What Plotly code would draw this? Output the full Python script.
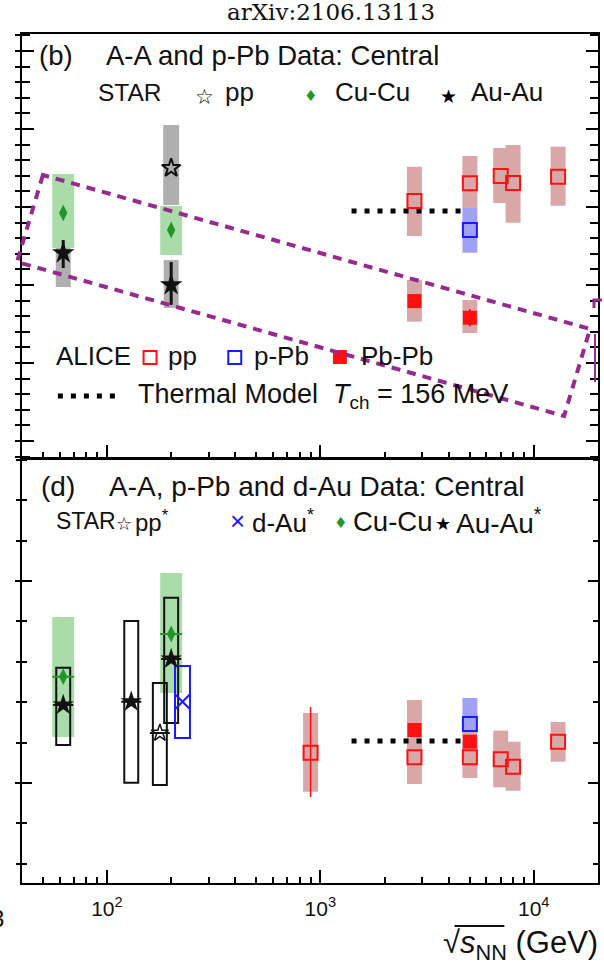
import math
import plotly.graph_objects as go

# ---------------- data : panel (b) ----------------
b_star_cucu_x = [62.4, 200]
b_star_cucu_y = [0.2962, 0.2853]
b_star_cucu_hi = [0.3212, 0.3006]
b_star_cucu_lo = [0.2737, 0.2692]

b_star_auau_x = [62.4, 200]
b_star_auau_y = [0.2705, 0.2500]
b_star_auau_hi = [0.2904, 0.2660]
b_star_auau_lo = [0.2487, 0.2353]
b_star_auau_stat_up = [0.0083, 0.0147]
b_star_auau_stat_dn = [0.0096, 0.0128]

b_star_pp_x = [200]
b_star_pp_y = [0.3250]
b_star_pp_hi = [0.3526]
b_star_pp_lo = [0.3013]

b_alice_pp_x = [2760, 5020, 7000, 8000, 13000]
b_alice_pp_y = [0.3038, 0.3152, 0.3199, 0.3154, 0.3194]
b_alice_pp_hi = [0.3258, 0.3327, 0.3378, 0.3397, 0.3387]
b_alice_pp_lo = [0.2814, 0.2994, 0.3026, 0.2899, 0.3008]

b_alice_ppb_x = [5020]
b_alice_ppb_y = [0.2853]
b_alice_ppb_hi = [0.2994]
b_alice_ppb_lo = [0.2707]

b_alice_pbpb_x = [2760, 5020]
b_alice_pbpb_y = [0.2397, 0.2290]
b_alice_pbpb_hi = [0.2532, 0.2404]
b_alice_pbpb_lo = [0.2265, 0.2192]
b_alice_pbpb_stat = [0.0030, 0.0055]

thermal_x = [1400, 4600]
thermal_b = [0.2974, 0.2974]

# ---------------- data : panel (d) ----------------
d_star_cucu_x = [62.4, 200]
d_star_cucu_y = [0.12631, 0.13688]
d_star_cucu_hi = [0.14109, 0.15198]
d_star_cucu_lo = [0.11139, 0.12228]

d_star_auau_x = [62.4, 130, 200]
d_star_auau_y = [0.11931, 0.12012, 0.13069]
d_star_auau_hi = [0.12854, 0.14010, 0.14587]
d_star_auau_lo = [0.10941, 0.10007, 0.11485]

d_star_pp_x = [177]
d_star_pp_y = [0.11238]
d_star_pp_hi = [0.12475]
d_star_pp_lo = [0.09950]

d_star_dau_x = [226]
d_star_dau_y = [0.12012]
d_star_dau_hi = [0.12896]
d_star_dau_lo = [0.11114]

d_alice_pp_x = [900, 2760, 5020, 7000, 8000, 13000]
d_alice_pp_y = [0.10750, 0.10636, 0.10636, 0.10587, 0.10403, 0.11022]
d_alice_pp_hi = [0.11733, 0.11312, 0.11064, 0.11295, 0.11022, 0.11510]
d_alice_pp_lo = [0.09785, 0.09975, 0.10124, 0.09894, 0.09809, 0.10527]
d_alice_pp_stat_up = [0.01131, 0, 0, 0, 0, 0]
d_alice_pp_stat_dn = [0.01097, 0, 0, 0, 0, 0]

d_alice_pbpb_x = [2760, 5020]
d_alice_pbpb_y = [0.11312, 0.11022]
d_alice_pbpb_hi = [0.12054, 0.11361]
d_alice_pbpb_lo = [0.10569, 0.10668]

d_alice_ppb_x = [5020]
d_alice_ppb_y = [0.11460]
d_alice_ppb_hi = [0.12104]
d_alice_ppb_lo = [0.11270]

thermal_d = [0.1104, 0.1104]

x_major = [100, 1000, 10000]
x_major_text = ["10<sup>2</sup>", "10<sup>3</sup>", "10<sup>4</sup>"]
x_minor = [m * 10 ** e for e in (1, 2, 3) for m in range(2, 10) if 40 <= m * 10 ** e] + [20000]

# ---------------- styles ----------------
W, H = 604, 966
L, R, T, B = 22, 4, 34, 83
PW, PH = W - L - R, H - T - B
FONT = "Liberation Sans, Arial, sans-serif"
SYM = "DejaVu Sans, sans-serif"
INK = "#111111"
C_GRAY = "#afafaf"
C_GREEN = "#a9dca9"
C_ROSE = "#d9a7a7"
C_BLUE = "#a0a0f6"
RED = "#ff1010"
BLUE = "#1a1aff"
GREEN = "#22962a"
PURPLE = "#962a8f"

XR = [math.log10(40), math.log10(20000)]
DEC = PW / (XR[1] - XR[0])   # pixels per decade on the x axis


def px(xp):
    return (xp - L) / PW


def py(yp):
    return (H - B - yp) / PH


fig = go.Figure()
shapes = []


def boxes(xs, lo, hi, yref, color, w, outline=None, lw=0):
    f = 10 ** (w / 2 / DEC)
    for x, a, b in zip(xs, lo, hi):
        shapes.append(dict(type="rect", xref="x" if yref == "y" else "x2", yref=yref,
                           x0=x / f, x1=x * f, y0=a, y1=b, layer="below",
                           fillcolor=color if outline is None else "rgba(0,0,0,0)",
                           line=dict(width=lw, color=outline if outline else color)))


# panel (b) boxes
boxes(b_star_pp_x, b_star_pp_lo, b_star_pp_hi, "y", C_GRAY, 16)
boxes(b_star_auau_x, b_star_auau_lo, b_star_auau_hi, "y", C_GRAY, 15)
boxes(b_star_cucu_x, b_star_cucu_lo, b_star_cucu_hi, "y", C_GREEN, 22)
boxes(b_alice_pp_x, b_alice_pp_lo, b_alice_pp_hi, "y", C_ROSE, 15)
boxes(b_alice_pbpb_x, b_alice_pbpb_lo, b_alice_pbpb_hi, "y", C_ROSE, 15)
boxes(b_alice_ppb_x, b_alice_ppb_lo, b_alice_ppb_hi, "y", C_BLUE, 15)

# panel (d) boxes
boxes(d_star_cucu_x, d_star_cucu_lo, d_star_cucu_hi, "y2", C_GREEN, 22)
boxes(d_alice_pp_x, d_alice_pp_lo, d_alice_pp_hi, "y2", C_ROSE, 15)
boxes(d_alice_pbpb_x, d_alice_pbpb_lo, d_alice_pbpb_hi, "y2", C_ROSE, 15)
boxes(d_alice_ppb_x, d_alice_ppb_lo, d_alice_ppb_hi, "y2", C_BLUE, 15)
boxes(d_star_auau_x, d_star_auau_lo, d_star_auau_hi, "y2", None, 14, outline=INK, lw=2)
boxes(d_star_pp_x, d_star_pp_lo, d_star_pp_hi, "y2", None, 14, outline=INK, lw=2)
boxes(d_star_dau_x, d_star_dau_lo, d_star_dau_hi, "y2", None, 15, outline=BLUE, lw=2)

# thermal model lines
for xa, ya, yv in (("x", "y", thermal_b), ("x2", "y2", thermal_d)):
    fig.add_trace(go.Scatter(x=thermal_x, y=yv, xaxis=xa, yaxis=ya, mode="lines",
                             line=dict(color="black", width=5, dash="5px,8px"),
                             showlegend=False, hoverinfo="skip"))


def pts(x, y, xa, ya, symbol, size, color, lc=None, lw=0, err=None):
    kw = {}
    if err is not None:
        kw["error_y"] = err
    fig.add_trace(go.Scatter(x=x, y=y, xaxis=xa, yaxis=ya, mode="markers",
                             marker=dict(symbol=symbol, size=size, color=color,
                                         line=dict(color=lc or color, width=lw)),
                             showlegend=False, **kw))


# panel (b) markers
pts(b_star_pp_x, b_star_pp_y, "x", "y", "star-open", 14, INK, lw=2)
pts(b_star_cucu_x, b_star_cucu_y, "x", "y", "diamond-tall", 12, GREEN)
pts(b_star_auau_x, b_star_auau_y, "x", "y", "star", 17, INK,
    err=dict(type="data", symmetric=False, array=b_star_auau_stat_up,
             arrayminus=b_star_auau_stat_dn, color=INK, thickness=3, width=0))
pts(b_alice_pp_x, b_alice_pp_y, "x", "y", "square-open", 14, RED, lw=2)
pts(b_alice_ppb_x, b_alice_ppb_y, "x", "y", "square-open", 14, BLUE, lw=2)
pts(b_alice_pbpb_x, b_alice_pbpb_y, "x", "y", "square", 14, RED,
    err=dict(type="data", array=b_alice_pbpb_stat, color=RED, thickness=2, width=0))

# panel (d) markers
capz = dict(type="data", array=[0.00005] * 3, color=INK, thickness=1.5, width=10)
pts(d_star_cucu_x, d_star_cucu_y, "x2", "y2", "diamond-tall", 12, GREEN,
    err=dict(type="data", array=[0.00005] * 2, color=GREEN, thickness=1.5, width=11))
pts(d_star_auau_x, d_star_auau_y, "x2", "y2", "star", 16, INK, err=capz)
pts(d_star_pp_x, d_star_pp_y, "x2", "y2", "star-open", 13, INK, lw=1.5,
    err=dict(type="data", array=[0.00005], color=INK, thickness=1.5, width=10))
pts(d_star_dau_x, d_star_dau_y, "x2", "y2", "x-thin-open", 14, BLUE, lw=2)
pts(d_alice_pp_x, d_alice_pp_y, "x2", "y2", "square-open", 14, RED, lw=2,
    err=dict(type="data", symmetric=False, array=d_alice_pp_stat_up,
             arrayminus=d_alice_pp_stat_dn, color=RED, thickness=1.5, width=0))
pts(d_alice_pbpb_x, d_alice_pbpb_y, "x2", "y2", "square", 14, RED)
pts(d_alice_ppb_x, d_alice_ppb_y, "x2", "y2", "square-open", 14, BLUE, lw=2)

# invisible traces for the outer-tick overlay axes
fig.add_trace(go.Scatter(x=[None], y=[None], xaxis="x", yaxis="y3", showlegend=False))
fig.add_trace(go.Scatter(x=[None], y=[None], xaxis="x2", yaxis="y4", showlegend=False))

# ---------------- axes ----------------
YB = [0.13910, 0.41090]
YD = [0.075248, 0.180322]
TOPDOM = [0.5006, 1.0]
BOTDOM = [0.0, 0.5]

xcommon = dict(type="log", range=XR, showline=True, linecolor="black", linewidth=2,
               mirror=True, ticks="inside", ticklen=13, tickwidth=2, tickcolor="black",
               tickmode="array", tickvals=x_major, ticktext=x_major_text,
               showgrid=False, zeroline=False,
               minor=dict(ticks="inside", ticklen=6, tickwidth=2, tickcolor="black",
                          tickmode="array", tickvals=x_minor, showgrid=False))
fig.update_layout(
    xaxis=dict(**xcommon, anchor="y", showticklabels=False),
    xaxis2=dict(**xcommon, anchor="y2", matches="x", showticklabels=True,
                tickfont=dict(family=FONT, size=21, color=INK), ticklabelstandoff=6),
    yaxis=dict(domain=TOPDOM, range=YB, anchor="x", showline=True, linecolor="black",
               linewidth=2, mirror="ticks", ticks="inside", ticklen=12, tickwidth=2,
               tickcolor="black", tick0=0, dtick=0.05, showticklabels=False,
               showgrid=False, zeroline=False,
               minor=dict(ticks="inside", ticklen=8, tickwidth=2, tickcolor="black",
                          tick0=0, dtick=0.01)),
    yaxis3=dict(overlaying="y", range=YB, anchor="x", side="left", showline=False,
                ticks="outside", ticklen=6, tickwidth=2, tickcolor="black", tick0=0,
                dtick=0.05, showticklabels=False, showgrid=False, zeroline=False,
                minor=dict(ticks="outside", ticklen=6, tickwidth=2, tickcolor="black",
                           tick0=0, dtick=0.01)),
    yaxis2=dict(domain=BOTDOM, range=YD, anchor="x2", showline=True, linecolor="black",
                linewidth=2, mirror="ticks", ticks="inside", ticklen=10, tickwidth=2,
                tickcolor="black", tick0=0, dtick=0.05, showticklabels=False,
                showgrid=False, zeroline=False,
                minor=dict(ticks="inside", ticklen=5, tickwidth=2, tickcolor="black",
                           tick0=0, dtick=0.01)),
    yaxis4=dict(overlaying="y2", range=YD, anchor="x2", side="left", showline=False,
                ticks="outside", ticklen=6, tickwidth=2, tickcolor="black", tick0=0,
                dtick=0.05, showticklabels=False, showgrid=False, zeroline=False,
                minor=dict(ticks="outside", ticklen=5, tickwidth=2, tickcolor="black",
                           tick0=0, dtick=0.01)),
)

# ---------------- text ----------------
anns = []


def ann(text, xp, yp, size, xanchor="left", family=FONT, color=INK):
    anns.append(dict(text=text, x=px(xp), y=py(yp), xref="paper", yref="paper",
                     xanchor=xanchor, yanchor="middle", showarrow=False,
                     font=dict(family=family, size=size, color=color)))


ann("arXiv:2106.13113", 332, 12, 23, xanchor="center", family="DejaVu Serif, serif")

ann("(b)", 37, 56, 27.5)
ann("A-A and p-Pb Data: Central", 104, 56, 27.5)
ann("STAR", 96, 92, 24.5)
ann("☆", 205, 97, 21, xanchor="center", family=SYM, color="black")
ann("pp", 224, 92, 26)
ann("♦", 312, 96, 15, xanchor="center", family=SYM, color=GREEN)
ann("Cu-Cu", 334, 92, 26)
ann("★", 450, 96, 19, xanchor="center", family=SYM, color="black")
ann("Au-Au", 471, 92, 26)

ann("ALICE", 54, 356, 26)
ann("pp", 166, 356, 26)
ann("p-Pb", 253, 356, 26)
ann("Pb-Pb", 360, 356, 26)
ann("Thermal Model  <i>T</i><sub>ch</sub> = 156 MeV", 136, 396, 27)

ann("(d)", 39, 486, 28)
ann("A-A, p-Pb and d-Au Data: Central", 107, 486, 28)
ann("STAR", 54, 521, 23)
ann("☆", 124, 523, 18, xanchor="center", family=SYM, color="black")
ann("pp<sup>*</sup>", 133, 521, 24)
ann("×", 238, 521, 26, xanchor="center", color=BLUE)
ann("d-Au<sup>*</sup>", 251, 521, 26)
ann("♦", 342, 523, 15, xanchor="center", family=SYM, color=GREEN)
ann("Cu-Cu", 352, 521, 27.5)
ann("★", 444, 523, 18, xanchor="center", family=SYM, color="black")
ann("Au-Au<sup>*</sup>", 455, 521, 28)

ann("√<i>s</i><sub>NN</sub> (GeV)", 602, 945, 31, xanchor="right")
ann("3", 6, 918, 24, xanchor="right")


# legend keys (decorations in paper coordinates)
def prect(x0, y0, x1, y1, fill, line, lw):
    shapes.append(dict(type="rect", xref="paper", yref="paper", x0=px(x0), x1=px(x1),
                       y0=py(y1), y1=py(y0), fillcolor=fill, line=dict(color=line, width=lw),
                       layer="above"))


prect(144, 351, 157, 364, "rgba(0,0,0,0)", RED, 2)
prect(229, 351, 242, 364, "rgba(0,0,0,0)", BLUE, 2)
prect(334, 350, 348, 364, RED, RED, 0)
shapes.append(dict(type="line", xref="paper", yref="paper", x0=px(58), x1=px(119),
                   y0=py(396), y1=py(396), line=dict(color="black", width=5, dash="5px,8px")))

# overline of the square root
shapes.append(dict(type="line", xref="paper", yref="paper", x0=px(456), x1=px(506),
                   y0=py(926), y1=py(926), line=dict(color=INK, width=2)))

# purple dashed selection box
corners = [(43, 175), (17, 262), (566, 416), (592, 329)]
path = "M " + " L ".join(f"{px(a):.5f},{py(b):.5f}" for a, b in corners) + " Z"
shapes.append(dict(type="path", xref="paper", yref="paper", path=path,
                   line=dict(color=PURPLE, width=4, dash="9px,7px"), layer="above"))
shapes.append(dict(type="path", xref="paper", yref="paper",
                   path=f"M {px(604):.5f},{py(300):.5f} L {px(596):.5f},{py(300):.5f} L {px(596):.5f},{py(308):.5f}",
                   line=dict(color=PURPLE, width=3), layer="above"))
shapes.append(dict(type="line", xref="paper", yref="paper", x0=px(597), x1=px(597),
                   y0=py(334), y1=py(382), line=dict(color=PURPLE, width=2), layer="above"))

fig.update_layout(width=W, height=H, margin=dict(l=L, r=R, t=T, b=B),
                  paper_bgcolor="white", plot_bgcolor="white", showlegend=False,
                  shapes=shapes, annotations=anns, font=dict(family=FONT, color=INK))

fig.write_html("out.html")
